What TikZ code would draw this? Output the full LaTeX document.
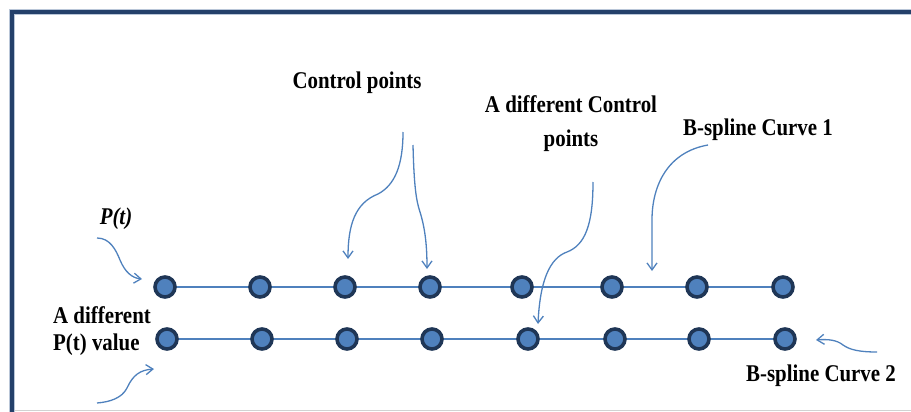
\documentclass[tikz,border=0pt]{standalone}
\usepackage{fontspec}
\setmainfont{Liberation Serif}
\newfontfamily\condfont[FakeStretch=0.87]{Liberation Serif}
\usetikzlibrary{arrows.meta,backgrounds}
\definecolor{dotfill}{HTML}{4F81BD}
\definecolor{dotedge}{HTML}{1F3656}
\definecolor{linkblue}{HTML}{4F81BD}
\definecolor{framedark}{HTML}{24406A}
\definecolor{framelight}{HTML}{B9C6D8}
\tikzset{
  dotnode/.style={circle,fill=dotfill,draw=dotedge,line width=3.6pt,minimum size=20pt,inner sep=0pt},
  lbl/.style={font=\condfont\bfseries\fontsize{24}{27}\selectfont,inner sep=0pt,align=center},
  rowline/.style={draw=linkblue,line width=1.5pt},
  arr/.style={draw=linkblue,line width=1.3pt,-{Straight Barb[length=7pt,width=10pt,line width=1.3pt]}}
}
\begin{document}
\begin{tikzpicture}[x=1pt,y=-1pt]
\useasboundingbox (0,0) rectangle (911,412);
% frame
\draw[framelight,line width=6.5pt] (12,414) -- (12,12) -- (913,12);
\draw[framedark,line width=3.6pt] (12,414) -- (12,12) -- (913,12);
\draw[gray!35,line width=1pt] (15,410.5) -- (911,410.5);
% top row
\foreach \i/\x in {1/165,2/260,3/345,4/430,5/522,6/612,7/697,8/783}
  \node[dotnode] (t\i) at (\x,287) {};
% bottom row
\foreach \i/\x in {1/167,2/262,3/347,4/432,5/528,6/615,7/699,8/785}
  \node[dotnode] (b\i) at (\x,339) {};
\begin{scope}[on background layer]
  \draw[rowline] (t1.center) -- (t8.center);
  \draw[rowline] (b1.center) -- (b8.center);
\end{scope}
% labels
\node[lbl] (cp) at (357,83) {Control points};
\node[lbl,align=center] (adcp) at (571,124) {A different Control\\[7pt]points};
\node[lbl] (bs1) at (758,130) {B-spline Curve 1};
\node[lbl] (bs2) at (821,376) {B-spline Curve 2};
\node[lbl,font=\condfont\bfseries\itshape\fontsize{24}{27}\selectfont] (pt) at (116,219) {P(t)};
\node[lbl,align=left,anchor=west] (adp) at (53,331) {A different\\P(t) value};
% arrow end points
\coordinate (a1s) at (97,238);   \coordinate (a1e) at (142,279);
\coordinate (a2s) at (97,403);   \coordinate (a2e) at (154,369);
\coordinate (a3s) at (403,132);  \coordinate (a3e) at (348,259);
\coordinate (a4s) at (413,145);  \coordinate (a4e) at (427,269);
\coordinate (a5s) at (593,182);  \coordinate (a5e) at (538,324);
\coordinate (a6s) at (708,145);  \coordinate (a6e) at (652,271);
\coordinate (a7s) at (877,352);  \coordinate (a7e) at (816,340);
% arrows
\draw[arr] (a1s) .. controls (110,238) and (116,250) .. (120,260) .. controls (125,272) and (132,278) .. (a1e);
\draw[arr] (a2s) .. controls (110,402) and (122,398) .. (127,388) .. controls (133,375) and (140,370) .. (a2e);
\draw[arr] (a3s) .. controls (403,165) and (395,185) .. (378,194) .. controls (355,203) and (348,225) .. (a3e);
\draw[arr] (a4s) .. controls (414,185) and (416,200) .. (420,212) .. controls (425,228) and (427,245) .. (a4e);
\draw[arr] (a5s) .. controls (593,225) and (585,245) .. (567,252) .. controls (550,258) and (540,280) .. (a5e);
\draw[arr] (a6s) .. controls (668,152) and (652,185) .. (652,220) -- (a6e);
\draw[arr] (a7s) .. controls (860,352) and (850,350) .. (843,345) .. controls (837,340) and (828,339) .. (a7e);
\end{tikzpicture}
\end{document}
